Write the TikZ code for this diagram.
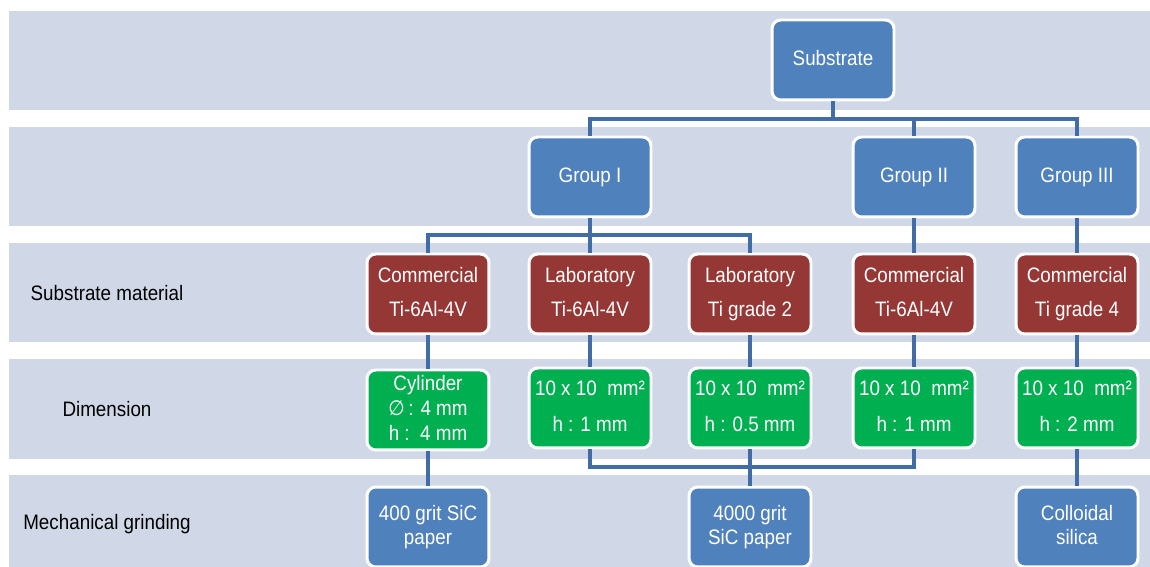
\documentclass[tikz,border=0pt]{standalone}
\usepackage{fontspec}
\setmainfont{Liberation Sans}[FakeStretch=0.9]
\newfontfamily\symfont{DejaVu Sans}[FakeStretch=0.9]
\definecolor{bandcol}{HTML}{D0D8E8}
\definecolor{bluebox}{HTML}{4F81BD}
\definecolor{redbox}{HTML}{953735}
\definecolor{greenbox}{HTML}{00B050}
\definecolor{linkcol}{HTML}{416CA6}
\tikzset{
  box/.style={draw=white, line width=1.7pt, rounded corners=5pt,
    minimum width=2.44cm, minimum height=1.6cm, inner sep=0pt,
    align=center, text=white,
    execute at begin node=\vphantom{Tg}, execute at end node=\vphantom{Tg}},
  bluebox/.style={box, fill=bluebox, font=\fontsize{11.9}{13.8}\selectfont},
  redbox/.style={box, fill=redbox, font=\fontsize{11.9}{19.3}\selectfont},
  greenbox/.style={box, fill=greenbox, font=\fontsize{11.9}{20.4}\selectfont},
  rowlabel/.style={text=black, font=\fontsize{11.9}{14}\selectfont},
  link/.style={draw=linkcol, line width=2.2pt}
}
\begin{document}
\begin{tikzpicture}[x=0.02cm,y=-0.02cm]
  \useasboundingbox (0,0) rectangle (1150,567);
  \foreach \t/\b in {11/110,127/226,243/342,359/459,475/567}
    \fill[bandcol] (9,\t) rectangle (1150,\b);

  \node[rowlabel] (lmat) at (107,293) {Substrate material};
  \node[rowlabel] (ldim) at (107,409) {Dimension};
  \node[rowlabel] (lgri) at (107,524) {Mechanical grinding};

  \node[bluebox] (sub) at (833,60) {Substrate};
  \node[bluebox] (g1) at (590,177) {Group I};
  \node[bluebox] (g2) at (914,177) {Group II};
  \node[bluebox] (g3) at (1077,177) {Group III};

  \node[redbox] (m1) at (428,294) {Commercial\\Ti-6Al-4V};
  \node[redbox] (m2) at (590,294) {Laboratory\\Ti-6Al-4V};
  \node[redbox] (m3) at (750,294) {Laboratory\\Ti grade 2};
  \node[redbox] (m4) at (914,294) {Commercial\\Ti-6Al-4V};
  \node[redbox] (m5) at (1077,294) {Commercial\\Ti grade 4};

  \node[greenbox, font=\fontsize{11.9}{14}\selectfont] (d1) at (428,410)
    {Cylinder\\{\symfont ∅}\,: 4 mm\\h :\ \ 4 mm};
  \node[greenbox] (d2) at (590,408) {10 x 10 \ mm²\\h : 1 mm};
  \node[greenbox] (d3) at (750,408) {10 x 10 \ mm²\\h : 0.5 mm};
  \node[greenbox] (d4) at (914,408) {10 x 10 \ mm²\\h : 1 mm};
  \node[greenbox] (d5) at (1077,408) {10 x 10 \ mm²\\h : 2 mm};

  \node[bluebox] (p1) at (428,527) {400 grit SiC\\paper};
  \node[bluebox] (p2) at (750,527) {4000 grit\\SiC paper};
  \node[bluebox] (p3) at (1077,527) {Colloidal\\silica};

  \begin{scope}[link]
    \draw (sub.south) -- (sub.south |- 0,119) -| (g1.north);
    \draw (sub.south |- 0,119) -| (g2.north);
    \draw (sub.south |- 0,119) -| (g3.north);
    \draw (g1.south) -- (g1.south |- 0,235) -| (m1.north);
    \draw (g1.south |- 0,235) -| (m2.north);
    \draw (g1.south |- 0,235) -| (m3.north);
    \draw (g2) to (m4);
    \draw (g3) to (m5);
    \draw (m1) to (d1);
    \draw (m2) to (d2);
    \draw (m3) to (d3);
    \draw (m4) to (d4);
    \draw (m5) to (d5);
    \draw (d1) to (p1);
    \draw (d2.south) -- (d2.south |- 0,467) -| (d4.south);
    \draw (d3) to (p2);
    \draw (d5) to (p3);
  \end{scope}
\end{tikzpicture}
\end{document}
